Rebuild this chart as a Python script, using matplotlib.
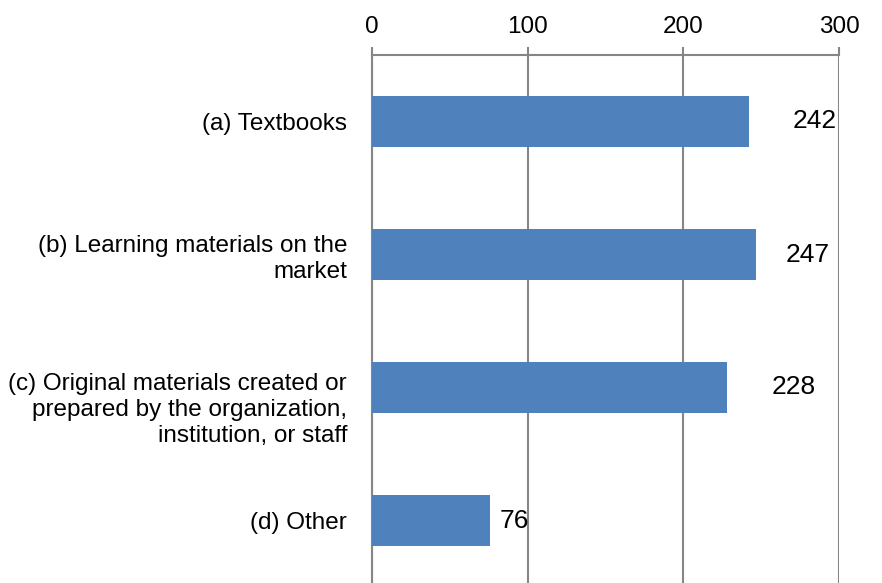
import matplotlib.pyplot as plt
from matplotlib.transforms import ScaledTranslation

# Data
categories = [
    "(a) Textbooks",
    "(b) Learning materials on the\nmarket",
    "(c) Original materials created or\nprepared by the organization,\ninstitution, or staff",
    "(d) Other",
]
counts = [242, 247, 228, 76]
label_gap_px = [44, 29, 45, 9]  # Excel placed the data labels unevenly
xticks = [0, 100, 200, 300]

plt.rcParams["font.family"] = ["Liberation Sans", "DejaVu Sans"]

fig = plt.figure(figsize=(8.82, 5.83), dpi=100)
ax = fig.add_axes([372 / 882, -4 / 583, 467 / 882, 532 / 583])

y = list(range(len(categories)))
ax.barh(y, counts, height=0.39, color="#4F81BD", zorder=3)

ax.set_xlim(0, 300)
ax.set_ylim(len(categories) - 0.5, -0.5)
ax.set_xticks(xticks)
ax.xaxis.tick_top()
ax.tick_params(axis="x", length=6, width=1.5, color="#868686", labelsize=17.5, pad=6)
ax.set_yticks(y)
ax.set_yticklabels(categories, fontsize=17.5, linespacing=1.22)
ax.tick_params(axis="y", length=0, pad=18)

# the three-line label sits a bit lower than its bar in the original
lbl = ax.get_yticklabels()[2]
lbl.set_transform(lbl.get_transform() + ScaledTranslation(0, -0.18, fig.dpi_scale_trans))

ax.grid(axis="x", color="#868686", linewidth=1.5, zorder=1)
for side in ["right", "bottom"]:
    ax.spines[side].set_visible(False)
for side in ["top", "left"]:
    ax.spines[side].set_color("#868686")
    ax.spines[side].set_linewidth(1.5)

for i, v in enumerate(counts):
    ax.annotate(str(v), (v, i), xytext=(label_gap_px[i], 0), textcoords="offset pixels",
                ha="left", va="center", fontsize=19, zorder=4)

fig.savefig("out.png", dpi=100)
